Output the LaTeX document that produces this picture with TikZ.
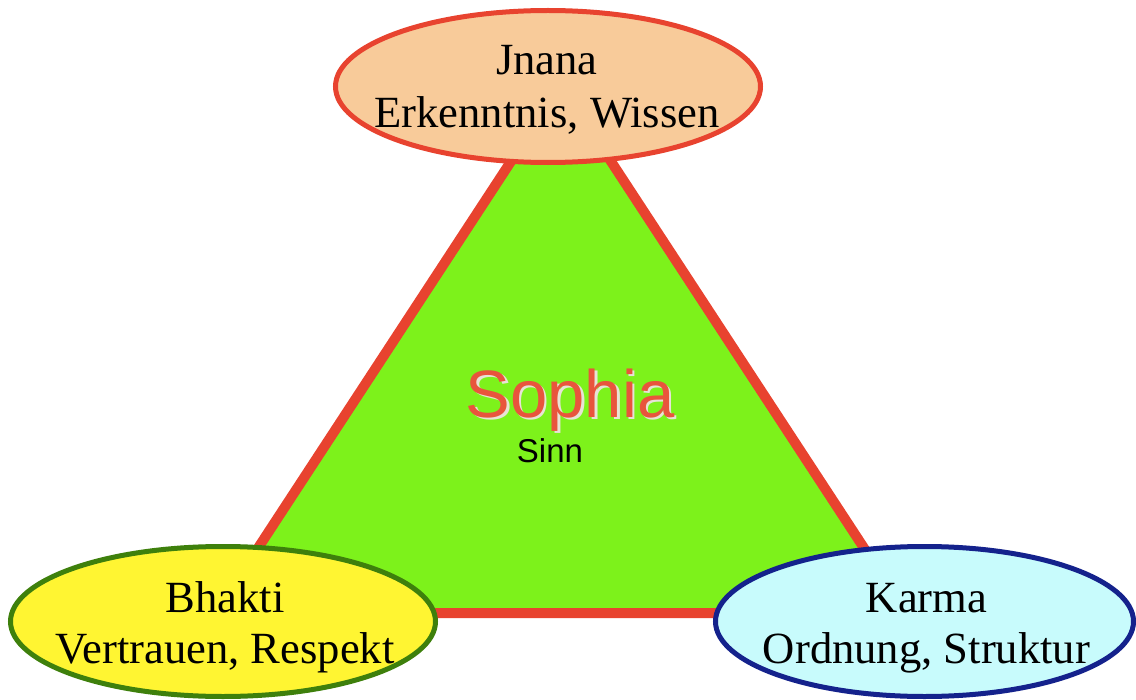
\documentclass[tikz,border=0pt]{standalone}
\usepackage{fontspec}
\setmainfont{Liberation Serif}
\newfontfamily\sophiafont{Liberation Sans}
\usetikzlibrary{shapes.geometric}
\definecolor{trifill}{RGB}{125,242,27}
\definecolor{redline}{RGB}{232,67,47}
\definecolor{jfill}{RGB}{248,203,154}
\definecolor{bfill}{RGB}{255,245,50}
\definecolor{bline}{RGB}{62,128,12}
\definecolor{kfill}{RGB}{200,251,252}
\definecolor{kline}{RGB}{20,34,140}
\definecolor{sophred}{RGB}{232,85,60}
\definecolor{sophshadow}{RGB}{232,226,214}
\tikzset{
  oval/.style={ellipse, line width=5bp, inner sep=0pt},
  lbl/.style={anchor=base, inner sep=0pt, font=\fontsize{44.6bp}{53bp}\selectfont},
  tri/.style={fill=trifill, draw=redline, line width=10bp, line join=miter},
}
\begin{document}
\begin{tikzpicture}[x=1bp,y=-1bp]
\useasboundingbox (0,0) rectangle (1136,700);
\coordinate (apex) at (561,85);
\coordinate (bl) at (215.5,613);
\coordinate (br) at (906.5,613);
\draw[tri] (apex) -- (bl) -- (br) -- cycle;
\node[oval, draw=redline, fill=jfill, minimum width=425bp, minimum height=152bp] (jnana) at (548,86.5) {};
\node[oval, draw=bline, fill=bfill, minimum width=425bp, minimum height=150bp] (bhakti) at (223,621.5) {};
\node[oval, draw=kline, fill=kfill, minimum width=418bp, minimum height=150bp] (karma) at (924.5,621.5) {};
\node[lbl] (j1) at (547,75) {Jnana};
\node[lbl] (j2) at (547,128) {Erkenntnis, Wissen};
\node[lbl] (b1) at (225,612) {Bhakti};
\node[lbl] (b2) at (225,663) {Vertrauen, Respekt};
\node[lbl] (k1) at (926.5,612) {Karma};
\node[lbl] (k2) at (926.5,663) {Ordnung, Struktur};
\node[anchor=base, inner sep=0pt, text=sophshadow, font=\sophiafont\fontsize{67bp}{80bp}\selectfont] (sophs) at (572.5,419.5) {Sophia};
\node[anchor=base, inner sep=0pt, text=sophred, font=\sophiafont\fontsize{67bp}{80bp}\selectfont] (sophia) at (570,417) {Sophia};
\node[anchor=base, inner sep=0pt, text=black, font=\sophiafont\fontsize{33bp}{40bp}\selectfont] (sinn) at (550,462) {Sinn};
\end{tikzpicture}
\end{document}
